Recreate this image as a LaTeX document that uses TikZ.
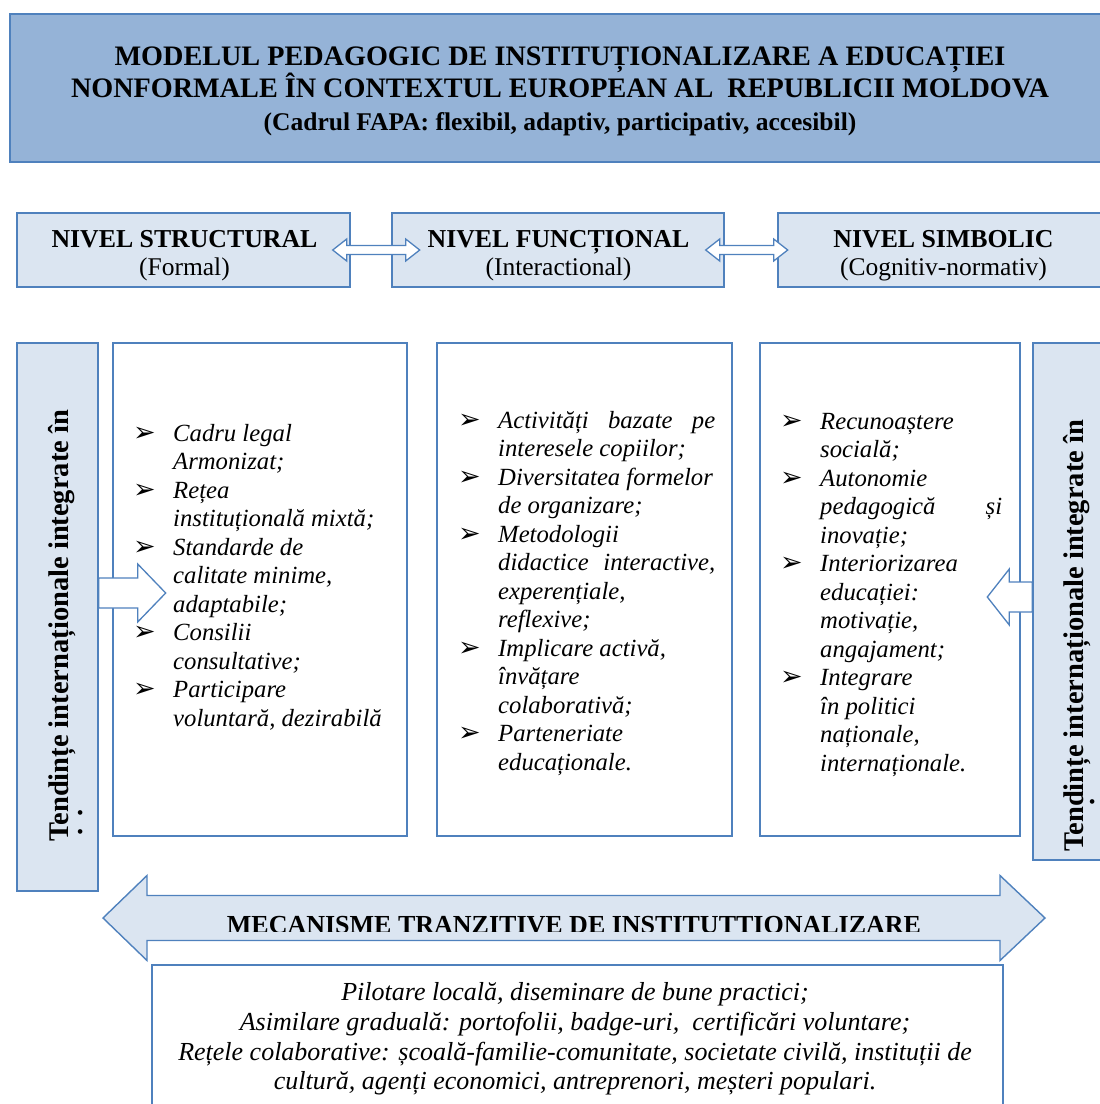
\documentclass[tikz,border=0pt]{standalone}
\usepackage{fontspec}
\setmainfont{Liberation Serif}
\newfontfamily\bulfont{DejaVu Sans}
\usetikzlibrary{positioning,calc}

\definecolor{bordblue}{HTML}{4F81BD}
\definecolor{titleblue}{HTML}{95B3D7}
\definecolor{paleblue}{HTML}{DBE5F1}

\newcommand{\bul}{\makebox[40pt][l]{\bulfont\fontsize{27}{20}\selectfont ➢}}
\newcommand{\ind}{\hspace*{40pt}}

\begin{document}
\begin{tikzpicture}[x=1pt,y=-1pt,
  titlebox/.style={draw=bordblue,line width=2.5pt,fill=titleblue,inner sep=0pt},
  levelbox/.style={draw=bordblue,line width=1.4pt,fill=paleblue,minimum height=74pt,inner sep=0pt},
  levtxt/.style={align=center,inner sep=0pt,font=\bfseries\fontsize{25.8}{28}\selectfont},
  listbox/.style={draw=bordblue,line width=1.4pt,fill=white,minimum height=493pt,inner sep=0pt},
  sidebox/.style={draw=bordblue,line width=1.4pt,fill=paleblue,inner sep=0pt},
  items/.style={align=left,anchor=north west,inner sep=0pt,font=\itshape\fontsize{24.7}{28.5}\selectfont},
  vtxt/.style={rotate=90,inner sep=0pt,font=\bfseries\fontsize{28.5}{30}\selectfont},
  hollow/.style={draw=bordblue,line width=1.3pt,fill=white,line join=miter},
  bigarrow/.style={draw=bordblue,line width=1.4pt,fill=paleblue,line join=miter}]
\useasboundingbox (0,0) rectangle (1100,1104);

% title
\node[titlebox,minimum width=1105pt,minimum height=148pt] (title) at (562.5,88) {};
\node[align=center,inner sep=0pt,font=\bfseries\fontsize{28.2}{32.5}\selectfont] (titletxt) at (560,91)
  {MODELUL PEDAGOGIC DE INSTITUȚIONALIZARE A EDUCAȚIEI\\
   NONFORMALE ÎN CONTEXTUL EUROPEAN AL\ \ REPUBLICII MOLDOVA\\
   {\fontsize{25.5}{32.5}\selectfont (Cadrul FAPA: flexibil, adaptiv, participativ, accesibil)}};

% levels
\node[levelbox,minimum width=333pt] (struct) at (183.5,250) {};
\node[levelbox,minimum width=332pt] (func) at (558,250) {};
\node[levelbox,minimum width=332pt] (simb) at (944,250) {};
\begin{scope}
  \clip (0,200) rectangle (1100,285.5);
  \node[levtxt] (structtxt) at (184.5,256) {NIVEL STRUCTURAL\\{\mdseries\fontsize{25.5}{28}\selectfont (Formal)}};
  \node[levtxt] (functxt) at (558.5,256) {NIVEL FUNCȚIONAL\\{\mdseries\fontsize{25.5}{28}\selectfont (Interactional)}};
  \node[levtxt] (simbtxt) at (943.5,256) {NIVEL SIMBOLIC\\{\mdseries\fontsize{25.5}{28}\selectfont (Cognitiv-normativ)}};
\end{scope}
\draw[hollow] ($(struct.east)+(-18,0)$) -- ++(14,-11) -- ++(0,6.5) -- ++(59,0) -- ++(0,-6.5)
  -- ++(14,11) -- ++(-14,11) -- ++(0,-6.5) -- ++(-59,0) -- ++(0,6.5) -- cycle;
\draw[hollow] ($(func.east)+(-19,0)$) -- ++(14,-11) -- ++(0,6.5) -- ++(54,0) -- ++(0,-6.5)
  -- ++(14,11) -- ++(-14,11) -- ++(0,-6.5) -- ++(-54,0) -- ++(0,6.5) -- cycle;

% side boxes
\node[sidebox,minimum width=81pt,minimum height=548pt] (sideL) at (57.5,617) {};
\node[sidebox,minimum width=82pt,minimum height=517pt] (sideR) at (1074,601.5) {};
\node[vtxt,anchor=base west] (tendL) at (68,842) {Tendințe internaționale integrate în};
\node[vtxt,anchor=base west] (dotsL) at (82,836) {.\hspace{12pt}.};
\node[vtxt,anchor=base west] (tendR) at (1083,852) {Tendințe internaționale integrate în};
\node[vtxt,anchor=base west] (dotsR) at (1094,806) {.};

% list boxes
\node[listbox,minimum width=294pt] (formal) at (260,589.5) {};
\node[listbox,minimum width=295pt] (interact) at (584.5,589.5) {};
\node[listbox,minimum width=260pt] (cognitiv) at (890,589.5) {};

\node[items] (formallist) at (133,424) {%
  \bul Cadru legal\\
  \ind Armonizat;\\
  \bul Rețea\\
  \ind instituțională mixtă;\\
  \bul Standarde de\\
  \ind calitate minime,\\
  \ind adaptabile;\\
  \bul Consilii\\
  \ind consultative;\\
  \bul Participare\\
  \ind voluntară, dezirabilă};
\node[items] (interactlist) at (458,411) {%
  \bul \makebox[217pt][s]{Activități bazate pe}\\
  \ind interesele copiilor;\\
  \bul Diversitatea formelor\\
  \ind de organizare;\\
  \bul Metodologii\\
  \ind \makebox[217pt][s]{didactice interactive,}\\
  \ind experențiale,\\
  \ind reflexive;\\
  \bul Implicare activă,\\
  \ind învățare\\
  \ind colaborativă;\\
  \bul Parteneriate\\
  \ind educaționale.};
\node[items] (cognitivlist) at (780,413) {%
  \bul Recunoaștere\\
  \ind socială;\\
  \bul Autonomie\\
  \ind \makebox[182pt][s]{pedagogică și}\\
  \ind inovație;\\
  \bul Interiorizarea\\
  \ind educației:\\
  \ind motivație,\\
  \ind angajament;\\
  \bul Integrare\\
  \ind în politici\\
  \ind naționale,\\
  \ind internaționale.};

% arrows from the side boxes
\draw[hollow] (sideL.east |- 0,578) -- ++(39,0) -- ++(0,-14) -- ++(28,29) -- ++(-28,29) -- ++(0,-14) -- ++(-39,0) -- cycle;
\draw[hollow] (sideR.west |- 0,582) -- ++(-23,0) -- ++(0,-13) -- ++(-22,28) -- ++(22,28) -- ++(0,-13) -- ++(23,0) -- cycle;

% mechanisms
\node[draw=bordblue,line width=1.4pt,fill=white,inner sep=0pt,minimum width=851pt,minimum height=150pt] (mechbox) at (577.5,1040) {};
\draw[bigarrow] (103,918) -- (147,875.5) -- (147,895.5) -- (1000,895.5) -- (1000,875.5) -- (1045,918)
  -- (1000,960.5) -- (1000,940.5) -- (147,940.5) -- (147,960.5) -- cycle;
\begin{scope}
  \clip (150,897) rectangle (1000,931.5);
  \node[inner sep=0pt,font=\bfseries\fontsize{26}{28}\selectfont] (mechlbl) at (574,925) {MECANISME TRANZITIVE DE INSTITUTTIONALIZARE};
\end{scope}
\node[align=center,inner sep=0pt,font=\itshape\fontsize{26}{29.7}\selectfont] (mechtxt) at (575,1039)
  {Pilotare locală, diseminare de bune practici;\\
   Asimilare graduală: portofolii, badge-uri,\ \ certificări voluntare;\\
   Rețele colaborative: școală-familie-comunitate, societate civilă, instituții de\\
   cultură, agenți economici, antreprenori, meșteri populari.};
\end{tikzpicture}
\end{document}
